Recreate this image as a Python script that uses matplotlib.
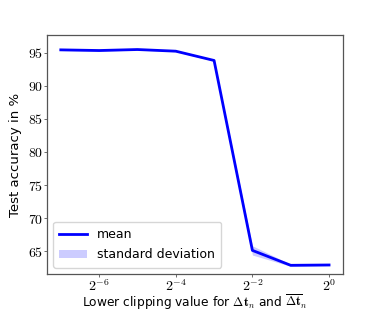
import numpy as np
import matplotlib
matplotlib.use("Agg")
import matplotlib.pyplot as plt
from matplotlib.ticker import FixedLocator, FuncFormatter, NullLocator

plt.rcParams["mathtext.fontset"] = "cm"
plt.rcParams["font.family"] = ["DejaVu Sans"]

# clipping exponents (base 2) and accuracies
exponents = [-7, -6, -5, -4, -3, -2, -1, 0]
mean_acc = [95.40, 95.30, 95.45, 95.20, 93.80, 65.15, 62.90, 62.95]
std_acc = [0.10, 0.10, 0.08, 0.08, 0.10, 0.70, 0.15, 0.10]
xticks_exp = [-6, -4, -2, 0]
yticks = [65, 70, 75, 80, 85, 90, 95]

x = 2.0 ** np.array(exponents)
m = np.array(mean_acc)
s = np.array(std_acc)

fig = plt.figure(figsize=(3.82, 3.12), dpi=100)
ax = fig.add_axes([0.123, 0.122, 0.775, 0.766])

ax.fill_between(x, m - s, m + s, color="blue", alpha=0.2, linewidth=0,
                label="standard deviation")
ax.plot(x, m, color="blue", linewidth=2, label="mean")

ax.set_xscale("log", base=2)
ax.xaxis.set_major_locator(FixedLocator(2.0 ** np.array(xticks_exp)))
ax.xaxis.set_minor_locator(NullLocator())
ax.xaxis.set_major_formatter(FuncFormatter(lambda v, p: r"$2^{%d}$" % round(np.log2(v))))
ax.set_yticks(yticks)
ax.yaxis.set_major_formatter(FuncFormatter(lambda v, p: r"$%d$" % v))
ax.set_ylim(61.6, 97.65)
ax.set_xlim(2.0 ** -7.36, 2.0 ** 0.365)

ax.tick_params(labelsize=10, length=2.5, width=0.6, color="#555555", pad=0.5)
for sp in ax.spines.values():
    sp.set_color("#555555")
    sp.set_linewidth(0.9)

ax.set_ylabel("Test accuracy in %", fontsize=9.5, labelpad=4)
ax.set_xlabel(r"Lower clipping value for $\mathbf{\Delta}\mathbf{t}_n$ and "
              r"$\overline{\mathbf{\Delta}\mathbf{t}}_n$",
              fontsize=8.8)
ax.xaxis.set_label_coords(0.5, -0.078)

h, l = ax.get_legend_handles_labels()
ax.legend(h[::-1], l[::-1], loc="lower left", fontsize=9, framealpha=0.8,
          handlelength=2.2, borderpad=0.5, labelspacing=0.6)

fig.savefig("out.png", dpi=100)
